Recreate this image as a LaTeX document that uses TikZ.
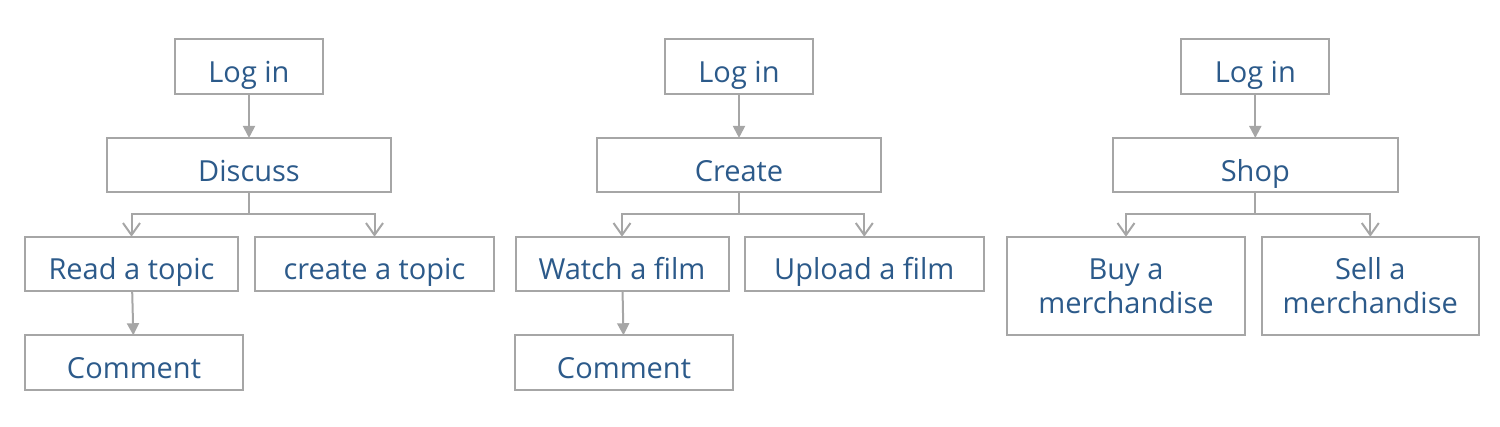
\documentclass[tikz,border=0pt]{standalone}
\usepackage{fontspec}
\setmainfont{Open Sans}
\usetikzlibrary{arrows.meta}
\definecolor{linegrey}{RGB}{166,166,166}
\definecolor{textblue}{RGB}{44,90,138}
\tikzset{
  box/.style={draw=linegrey, line width=2pt, text=textblue, inner sep=0pt, outer sep=0pt,
    minimum height=54.5pt, text height=34pt, text depth=2pt,
    font=\fontsize{29pt}{34pt}\selectfont},
  bigbox/.style={box, minimum height=98.3pt, text height=, text depth=, align=center},
  link/.style={draw=linegrey, line width=2pt},
  fill tip/.style={link, -{Triangle[length=12pt,width=12pt]}},
  open tip/.style={link, -{Straight Barb[length=12pt,width=17pt]}}
}
\begin{document}
\begin{tikzpicture}[x=1pt,y=-1pt]
      \useasboundingbox (0,0) rectangle (1500,427);
      \draw
        (249,66.3) node[box,minimum width=148pt] (login1){Log in}
        (249,165.2) node[box,minimum width=284.6pt] (discuss){Discuss}
        (131.5,264) node[box,minimum width=213pt] (read){Read a topic}
        (374.5,264) node[box,minimum width=239pt] (ctopic){create a topic}
        (134,362.5) node[box,minimum width=218pt] (comment1){Comment};
      \draw
        (739,66.3) node[box,minimum width=148pt] (login2){Log in}
        (739,165.2) node[box,minimum width=284.6pt] (create){Create}
        (622,264) node[box,minimum width=213pt] (watch){Watch a film}
        (864.3,264) node[box,minimum width=238.7pt] (upload){Upload a film}
        (624,362.5) node[box,minimum width=217.7pt] (comment2){Comment};
      \draw
        (1255.3,66.3) node[box,minimum width=148pt] (login3){Log in}
        (1255.3,165.2) node[box,minimum width=285pt] (shop){Shop}
        (1126,285.9) node[bigbox,minimum width=238.3pt] (buy){Buy a\\merchandise}
        (1370.3,285.9) node[bigbox,minimum width=217.3pt] (sell){Sell a\\merchandise};
      \coordinate (split1) at (249,214.3);
      \coordinate (split2) at (739,214.3);
      \coordinate (split3) at (1255.3,214.3);
      \begin{scope}[fill tip]
        \draw (login1) to (discuss);
        \draw (read) to (comment1);
        \draw (login2) to (create);
        \draw (watch) to (comment2);
        \draw (login3) to (shop);
      \end{scope}
      \begin{scope}[link]
        \draw (discuss) -- (split1);
        \draw (create) -- (split2);
        \draw (shop) -- (split3);
      \end{scope}
      \begin{scope}[open tip]
        \draw (split1) -| (read);
        \draw (split1) -| (ctopic);
        \draw (split2) -| (watch);
        \draw (split2) -| (upload);
        \draw (split3) -| (buy);
        \draw (split3) -| (sell);
      \end{scope}
    \end{tikzpicture}
\end{document}
